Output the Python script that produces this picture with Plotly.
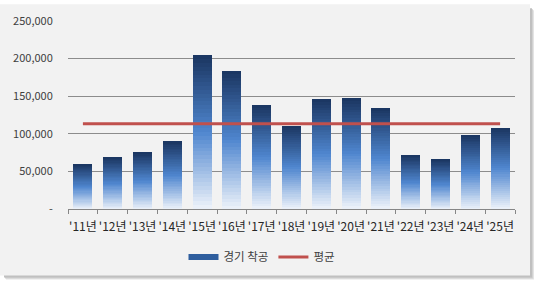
import plotly.graph_objects as go

categories = ["'11년", "'12년", "'13년", "'14년", "'15년", "'16년", "'17년", "'18년",
              "'19년", "'20년", "'21년", "'22년", "'23년", "'24년", "'25년"]
starts = [60000, 69000, 75500, 90000, 204400, 183600, 138000, 110700,
          145800, 147000, 134000, 71600, 66400, 99000, 108000]
average_value = 113500
average = [average_value] * len(categories)
y_tickvals = [0, 50000, 100000, 150000, 200000, 250000]
y_ticktext = ["-", "50,000", "100,000", "150,000", "200,000", "250,000"]

W, H = 537, 284
L, R, T, B = 68, 22, 17, 75
pw, ph = W - L - R, H - T - B


def px_x(p):
    return (p - L) / pw


def px_y(p):
    return (H - B - p) / ph


def hex2rgb(h):
    h = h.lstrip("#")
    return tuple(int(h[i:i + 2], 16) for i in (0, 2, 4))


stops = [(0.0, "#eef3fa"), (0.5, "#4f86cf"), (1.0, "#1a3560")]


def grad(t):
    for (t0, c0), (t1, c1) in zip(stops[:-1], stops[1:]):
        if t <= t1:
            f = (t - t0) / (t1 - t0)
            a, b = hex2rgb(c0), hex2rgb(c1)
            return "rgb(%d,%d,%d)" % tuple(round(a[i] + (b[i] - a[i]) * f) for i in range(3))
    return stops[-1][1]


fig = go.Figure()
N = 40
for k in range(N):
    fig.add_trace(go.Bar(
        x=categories, y=[v / N for v in starts],
        marker=dict(color=grad((k + 0.5) / N), line=dict(width=0)),
        showlegend=False, hoverinfo="skip",
    ))

# legend entries
fig.add_trace(go.Scatter(x=[None], y=[None], mode="lines", name="경기 착공",
                         line=dict(color="#2f5e9e", width=6)))
fig.add_trace(go.Scatter(x=categories, y=average, mode="lines", name="평균",
                         line=dict(color="#c0504d", width=3), hoverinfo="skip"))

shapes = []
# shadow
for off, col in [(4, "#e4e4e4"), (3, "#d2d2d2"), (2, "#c0c0c0")]:
    shapes.append(dict(type="rect", xref="paper", yref="paper", layer="below",
                       x0=px_x(off + 2), x1=px_x(530 + off), y0=px_y(277 + off), y1=px_y(off + 2),
                       fillcolor=col, line=dict(width=0)))
shapes.append(dict(type="rect", xref="paper", yref="paper", layer="below",
                   x0=px_x(0), x1=px_x(530), y0=px_y(277), y1=px_y(0),
                   fillcolor="#f2f2f2", line=dict(width=0)))

fig.update_layout(
    width=W, height=H,
    margin=dict(l=L, r=R, t=T, b=B),
    paper_bgcolor="white", plot_bgcolor="rgba(0,0,0,0)",
    barmode="stack", bargap=0.36,
    font=dict(family="Noto Sans CJK KR", size=11, color="#404040"),
    shapes=shapes,
    showlegend=True,
    legend=dict(orientation="h", x=px_x(262), xanchor="center", y=px_y(258), yanchor="middle",
                bgcolor="rgba(0,0,0,0)", font=dict(size=11.5), itemwidth=30,
                traceorder="normal"),
    xaxis=dict(type="category", tickson="boundaries", ticks="outside", ticklen=4,
               tickcolor="#868686", showline=True, linecolor="#868686", linewidth=1,
               showgrid=False, tickangle=0, ticklabelstandoff=7,
               tickfont=dict(size=12, color="#262626")),
    yaxis=dict(range=[0, 250000], tickvals=y_tickvals, ticktext=y_ticktext,
               showgrid=True, gridcolor="#8c8c8c", gridwidth=1, zeroline=False,
               showline=False, ticks="outside", ticklen=12, tickcolor="rgba(0,0,0,0)",
               tickfont=dict(size=11)),
)

fig.write_html("out.html")
